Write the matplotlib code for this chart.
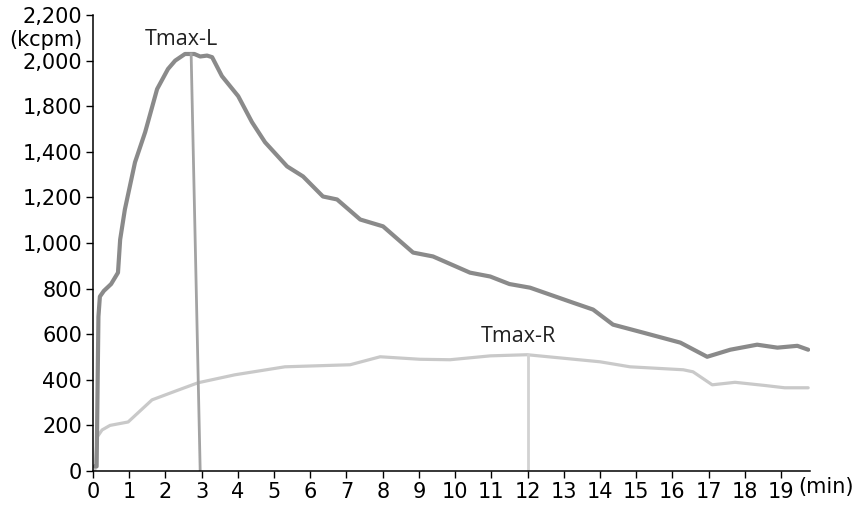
import numpy as np
import matplotlib.pyplot as plt

# y axis is drawn on an even scale; the original labels skip 1,600
y_ticks = np.arange(0, 2001, 200)
y_labels = ["0", "200", "400", "600", "800", "1,000", "1,200", "1,400",
            "1,800", "2,000", "2,200"]
x_ticks = np.arange(0, 20)

# left kidney curve (minutes, plotted scale)
t_left = [0.05, 0.10, 0.15, 0.19, 0.30, 0.50, 0.69, 0.75, 0.88, 1.16, 1.44,
          1.77, 2.07, 2.27, 2.54, 2.80, 2.96, 3.15, 3.29, 3.56, 4.01, 4.39,
          4.75, 5.36, 5.80, 6.35, 6.74, 7.38, 8.01, 8.84, 9.39, 10.41, 10.97,
          11.50, 12.07, 13.26, 13.81, 14.36, 15.19, 16.22, 16.96, 17.60,
          18.34, 18.90, 19.45, 19.75]
v_left = [20, 20, 677, 765, 790, 820, 870, 1015, 1147, 1354, 1486,
          1675, 1763, 1800, 1829, 1829, 1818, 1822, 1815, 1732, 1644, 1530,
          1442, 1336, 1292, 1204, 1191, 1103, 1073, 958, 941, 870, 853,
          820, 804, 738, 708, 642, 607, 563, 501, 532,
          554, 541, 549, 532]

# right kidney curve
t_right = [0.05, 0.12, 0.25, 0.47, 0.97, 1.63, 2.27, 2.90, 3.92, 5.30, 7.10,
           7.93, 9.03, 9.86, 10.97, 11.99, 14.00, 14.83, 16.30, 16.57, 17.10,
           17.73, 18.56, 19.10, 19.75]
v_right = [0, 150, 180, 200, 215, 312, 350, 387, 422, 457, 466,
           501, 490, 488, 505, 510, 479, 457, 444, 435, 378,
           389, 375, 365, 365]

tmax_l = (2.71, 2.96)   # top / bottom of the marker line
tmax_l_val = 1829
tmax_r = 12.0
tmax_r_val = 510

fig = plt.figure(figsize=(8.57, 5.05), dpi=100)
ax = fig.add_axes([93/857, 34/505, 717/857, 456/505])

ax.plot(t_right, v_right, color="#c9c9c9", lw=2.3, solid_capstyle="round",
        solid_joinstyle="round")
ax.plot(t_left, v_left, color="#8a8a8a", lw=3.0, solid_capstyle="round",
        solid_joinstyle="round")
ax.plot([tmax_l[0], tmax_l[1]], [tmax_l_val, 0], color="#a3a3a3", lw=2.0)
ax.plot([tmax_r, tmax_r], [tmax_r_val, 0], color="#d2d2d2", lw=2.0)

ax.text(2.43, 1894, "Tmax-L", fontsize=15.5, family="Open Sans",
        ha="center", va="center", color="#222222")
ax.text(11.74, 589, "Tmax-R", fontsize=15.5, family="Open Sans",
        ha="center", va="center", color="#222222")

ax.set_xlim(0, 19.8)
ax.set_ylim(0, 2000)
ax.set_yticks(y_ticks)
ax.set_yticklabels(y_labels)
ax.set_xticks(x_ticks)
ax.tick_params(labelsize=15, length=5, width=1, pad=3)
for s in ("top", "right"):
    ax.spines[s].set_visible(False)
ax.spines["left"].set_linewidth(1.1)
ax.spines["bottom"].set_linewidth(1.1)

fig.text(46/857, 1 - 40/505, "(kcpm)", fontsize=15, ha="center", va="center")
fig.text(826/857, 1 - 487/505, "(min)", fontsize=15, ha="center", va="center")

fig.savefig("out.png", dpi=100)
